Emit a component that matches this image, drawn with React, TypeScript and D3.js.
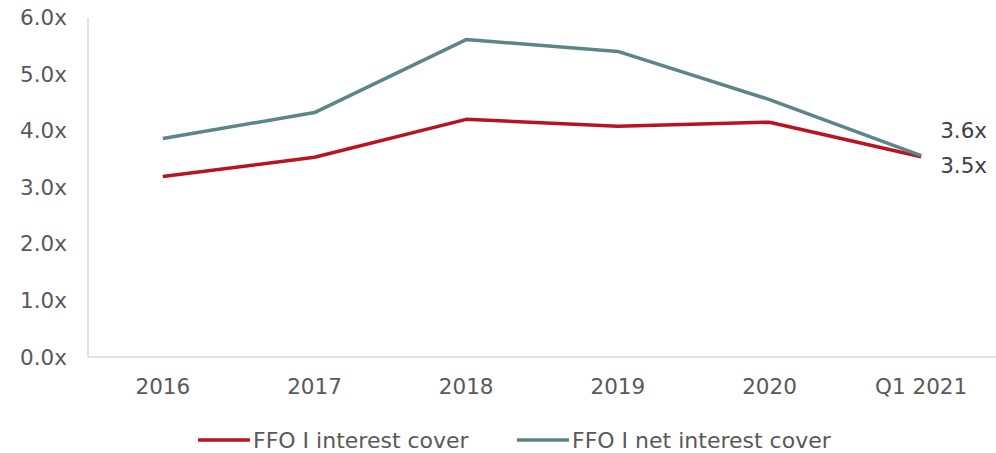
import React, { useRef, useEffect } from 'react';
import * as d3 from 'd3';

const categories = ['2016', '2017', '2018', '2019', '2020', 'Q1 2021'];
const interestCover = [3.19, 3.53, 4.2, 4.08, 4.15, 3.54];
const netInterestCover = [3.86, 4.32, 5.61, 5.4, 4.55, 3.56];
const yTicks = [0, 1, 2, 3, 4, 5, 6];

const W = 996;
const H = 453;
const RED = '#BA1220';
const TEAL = '#5C8587';
const TEXT = '#595959';
const FONT = 'Verdana, "DejaVu Sans", sans-serif';
const FS = '21.5px';

const App = () => {
  const svgRef = useRef<SVGSVGElement | null>(null);

  useEffect(() => {
    if (!svgRef.current) return;
    const svg = d3.select(svgRef.current);
    svg.selectAll('*').remove();

    const x = d3.scaleBand<string>()
      .domain(categories)
      .range([87, 997]);
    const y = d3.scaleLinear()
      .domain([0, 6])
      .range([357, 17.5]);
    const cx = (c: string) => (x(c) as number) + x.bandwidth() / 2;

    // y tick labels
    svg.append('g')
      .selectAll('text')
      .data(yTicks)
      .join('text')
        .attr('x', 67)
        .attr('y', (d) => y(d))
        .attr('dy', '0.35em')
        .attr('text-anchor', 'end')
        .attr('fill', TEXT)
        .style('font-size', FS)
        .style('font-family', FONT)
        .text((d) => `${d.toFixed(1)}x`);

    // axis lines
    svg.append('line')
      .attr('x1', 88).attr('x2', 88)
      .attr('y1', y(6)).attr('y2', y(0))
      .attr('stroke', '#D9D9D9').attr('stroke-width', 1.5);
    svg.append('line')
      .attr('x1', 88).attr('x2', W)
      .attr('y1', y(0)).attr('y2', y(0))
      .attr('stroke', '#D9D9D9').attr('stroke-width', 1.5);

    // x labels
    svg.append('g')
      .selectAll('text')
      .data(categories)
      .join('text')
        .attr('x', (d) => cx(d))
        .attr('y', 394)
        .attr('text-anchor', 'middle')
        .attr('fill', TEXT)
        .style('font-size', FS)
        .style('font-family', FONT)
        .text((d) => d);

    const line = d3.line<number>()
      .x((_, i) => cx(categories[i]))
      .y((d) => y(d));

    svg.append('path')
      .datum(interestCover)
      .attr('d', line)
      .attr('fill', 'none')
      .attr('stroke', RED)
      .attr('stroke-width', 3.5)
      .attr('stroke-linejoin', 'round');

    svg.append('path')
      .datum(netInterestCover)
      .attr('d', line)
      .attr('fill', 'none')
      .attr('stroke', TEAL)
      .attr('stroke-width', 3.5)
      .attr('stroke-linejoin', 'round');

    // end labels
    const last = categories.length - 1;
    svg.append('text')
      .attr('x', cx(categories[last]) + 19)
      .attr('y', y(netInterestCover[last]) - 18)
      .attr('fill', '#404040')
      .style('font-size', FS)
      .style('font-family', FONT)
      .text(`${netInterestCover[last].toFixed(1)}x`);
    svg.append('text')
      .attr('x', cx(categories[last]) + 19)
      .attr('y', y(interestCover[last]) + 16)
      .attr('fill', '#404040')
      .style('font-size', FS)
      .style('font-family', FONT)
      .text(`${interestCover[last].toFixed(1)}x`);

    // legend
    const legend = [
      { name: 'FFO I interest cover', color: RED, x: 198 },
      { name: 'FFO I net interest cover', color: TEAL, x: 517 },
    ];
    const lg = svg.append('g').selectAll('g').data(legend).join('g');
    lg.append('line')
      .attr('x1', (d) => d.x).attr('x2', (d) => d.x + 52)
      .attr('y1', 440).attr('y2', 440)
      .attr('stroke', (d) => d.color)
      .attr('stroke-width', 3.5);
    lg.append('text')
      .attr('x', (d) => d.x + 55)
      .attr('y', 440)
      .attr('dy', '0.35em')
      .attr('fill', TEXT)
      .style('font-size', '22px')
      .style('font-family', FONT)
      .text((d) => d.name);
  }, []);

  return (
    <svg
      ref={svgRef}
      width={W}
      height={H}
      style={{ position: 'absolute', left: 0, top: 0 }}
    />
  );
};

export default App;
